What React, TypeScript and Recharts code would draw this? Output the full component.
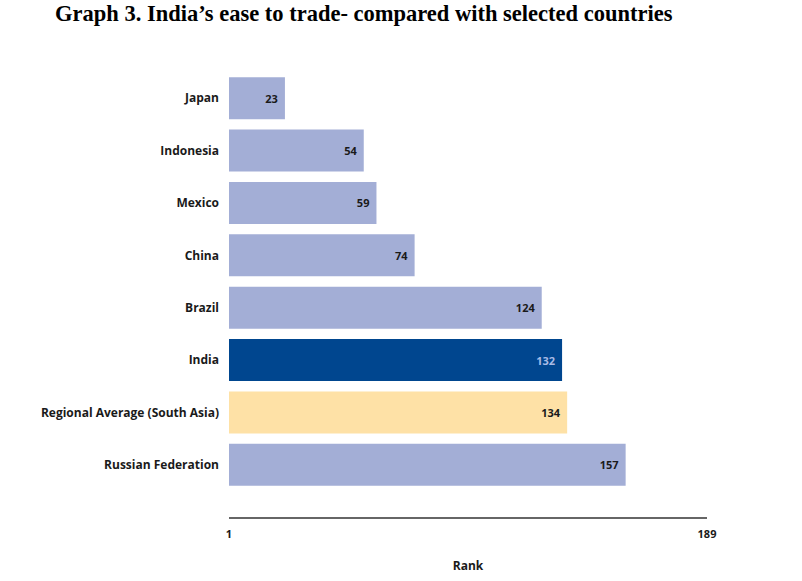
import { BarChart, Bar, XAxis, YAxis, Cell, LabelList } from "recharts";

const countries = [
  "Japan",
  "Indonesia",
  "Mexico",
  "China",
  "Brazil",
  "India",
  "Regional Average (South Asia)",
  "Russian Federation",
];
const ranks = [23, 54, 59, 74, 124, 132, 134, 157];
const rankTicks = [1, 189];

const BASE = "#a3aed6";
const INDIA = "#00468f";
const REGION = "#fee1a6";

const data = countries.map((name, i) => ({ name, rank: ranks[i] }));

function barColor(name: string): string {
  if (name === "India") return INDIA;
  if (name.startsWith("Regional")) return REGION;
  return BASE;
}

const font = "'Open Sans', Lato, sans-serif";

export default function App() {
  return (
    <div
      style={{
        position: "absolute",
        left: 0,
        top: 0,
        width: 802,
        height: 581,
        background: "#fff",
      }}
    >
      <div
        style={{
          position: "absolute",
          left: 55,
          top: 3,
          fontFamily: "'Liberation Serif', 'Times New Roman', serif",
          fontWeight: "bold",
          fontSize: 22.5,
          lineHeight: "22px",
          color: "#000",
          whiteSpace: "nowrap",
        }}
      >
        Graph 3. India’s ease to trade- compared with selected countries
      </div>
      <BarChart
        width={802}
        height={581}
        data={data}
        layout="vertical"
        margin={{ top: 72, right: 95, bottom: 8, left: 0 }}
        barCategoryGap="10%"
      >
        <XAxis
          type="number"
          domain={[1, 189]}
          ticks={rankTicks}
          axisLine={{ stroke: "#333", strokeWidth: 1.5 }}
          tickLine={false}
          tickSize={0}
          tickMargin={12}
          height={55}
          tick={{ fill: "#1a1a1a", fontSize: 11, fontWeight: "bold", fontFamily: font }}
          label={{
            value: "Rank",
            position: "insideBottom",
            offset: 3,
            fill: "#1a1a1a",
            fontSize: 12,
            fontWeight: "bold",
            fontFamily: font,
          }}
        />
        <YAxis
          type="category"
          dataKey="name"
          width={229}
          axisLine={false}
          tickLine={false}
          tickSize={0}
          tickMargin={10}
          padding={{ top: 0, bottom: 27 }}
          interval={0}
          tick={{ fill: "#1a1a1a", fontSize: 12, fontWeight: "bold", fontFamily: font }}
        />
        <Bar dataKey="rank" isAnimationActive={false}>
          {data.map((d) => (
            <Cell key={d.name} fill={barColor(d.name)} />
          ))}
          <LabelList
            dataKey="rank"
            position="insideRight"
            content={(props: any) => {
              const { x, y, width, height, value, index } = props;
              const isIndia = countries[index] === "India";
              return (
                <text
                  x={x + width - 7}
                  y={y + height / 2}
                  textAnchor="end"
                  dominantBaseline="central"
                  fill={isIndia ? "#a8bbe6" : "#1a1a1a"}
                  fontSize={11}
                  fontWeight="bold"
                  fontFamily={font}
                >
                  {value}
                </text>
              );
            }}
          />
        </Bar>
      </BarChart>
    </div>
  );
}
